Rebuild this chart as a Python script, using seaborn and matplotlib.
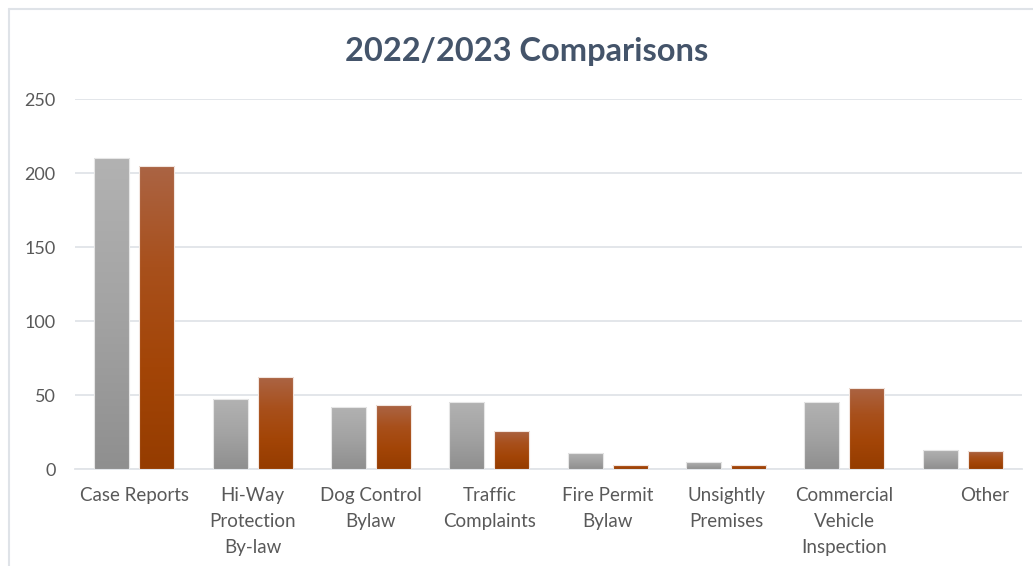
import numpy as np
import pandas as pd
import matplotlib
matplotlib.use("Agg")
import matplotlib.pyplot as plt
import seaborn as sns
from matplotlib.colors import LinearSegmentedColormap
from matplotlib.lines import Line2D
import matplotlib.transforms as mtransforms

categories = ["Case Reports", "Hi-Way\nProtection\nBy-law", "Dog Control\nBylaw",
              "Traffic\nComplaints", "Fire Permit\nBylaw", "Unsightly\nPremises",
              "Commercial\nVehicle\nInspection", "Other"]
values_2022 = [210, 47, 42, 45, 11, 5, 45, 13]
values_2023 = [205, 62, 43, 26, 3, 3, 55, 12]
series = ["2022", "2023"]
yticks = [0, 50, 100, 150, 200, 250]

df = pd.DataFrame({
    "category": categories * 2,
    "value": values_2022 + values_2023,
    "year": [series[0]] * len(categories) + [series[1]] * len(categories),
})

sns.set_theme(style="white")
plt.rcParams["font.family"] = ["Lato", "DejaVu Sans"]

fig = plt.figure(figsize=(10.33, 5.66), dpi=100)
ax = fig.add_axes([75 / 1033, 1 - 469 / 566, (1022 - 75) / 1033, (469 - 99) / 566])

palette = {"2022": "#a6a6a6", "2023": "#a5470f"}
sns.barplot(data=df, x="category", y="value", hue="year", order=categories,
            hue_order=series, palette=palette, width=0.76, gap=0.22,
            legend=False, ax=ax, edgecolor="none", linewidth=0, saturation=1)

# gradient fills clipped to each bar
grad_gray = LinearSegmentedColormap.from_list("g", ["#8f8f8f", "#a3a3a3", "#b2b2b2"])
grad_orng = LinearSegmentedColormap.from_list("o", ["#953c00", "#a34507", "#a8501c", "#ab6444"])
gimg = np.linspace(0, 1, 256).reshape(-1, 1)
for i, patch in enumerate(list(ax.patches)):
    x0, y0 = patch.get_x(), patch.get_y()
    w, h = patch.get_width(), patch.get_height()
    if h <= 0:
        continue
    cmap = grad_gray if i < len(categories) else grad_orng
    patch.set_facecolor("none")
    patch.set_edgecolor("#f2e6e0" if i >= len(categories) else "#e6e6e6")
    patch.set_linewidth(0.8)
    patch.set_zorder(4)
    im = ax.imshow(gimg, cmap=cmap, origin="lower", extent=[x0, x0 + w, y0, y0 + h],
                   aspect="auto", zorder=3, interpolation="bilinear")
    im.set_clip_path(patch)

ax.set_xlim(-0.5, len(categories) - 0.5)
ax.set_ylim(0, 250)
ax.set_yticks(yticks)
ax.set_yticklabels([str(t) for t in yticks])
ax.yaxis.grid(True, color="#e1e4e8", linewidth=1.3)
ax.set_axisbelow(True)
for s in ["top", "right", "left"]:
    ax.spines[s].set_visible(False)
ax.spines["bottom"].set_color("#e1e4e8")
ax.spines["bottom"].set_linewidth(1.3)
ax.set_xlabel("")
ax.set_ylabel("")
ax.tick_params(axis="y", length=0, pad=14, labelsize=13, labelcolor="#595959")
ax.tick_params(axis="x", length=0, pad=13, labelsize=13.5, labelcolor="#595959")
for lab in ax.get_xticklabels():
    lab.set_linespacing(1.65)
# "Other" label sits slightly right of its group in the reference
last = ax.get_xticklabels()[-1]
last.set_transform(last.get_transform() + mtransforms.ScaledTranslation(22 / 100, 0, fig.dpi_scale_trans))

fig.text(527 / 1033, 1 - 51 / 566, "2022/2023 Comparisons", ha="center", va="center",
         fontsize=23.5, fontweight="bold", color="#44546a")

# chart-area border (top and left visible in reference)
fig.add_artist(Line2D([9 / 1033, 9 / 1033], [0, 1 - 9 / 566], transform=fig.transFigure,
                      color="#dfe3e8", linewidth=1.5))
fig.add_artist(Line2D([9 / 1033, 1], [1 - 9 / 566, 1 - 9 / 566], transform=fig.transFigure,
                      color="#dfe3e8", linewidth=1.5))

fig.savefig("out.png", dpi=100, facecolor="white")
